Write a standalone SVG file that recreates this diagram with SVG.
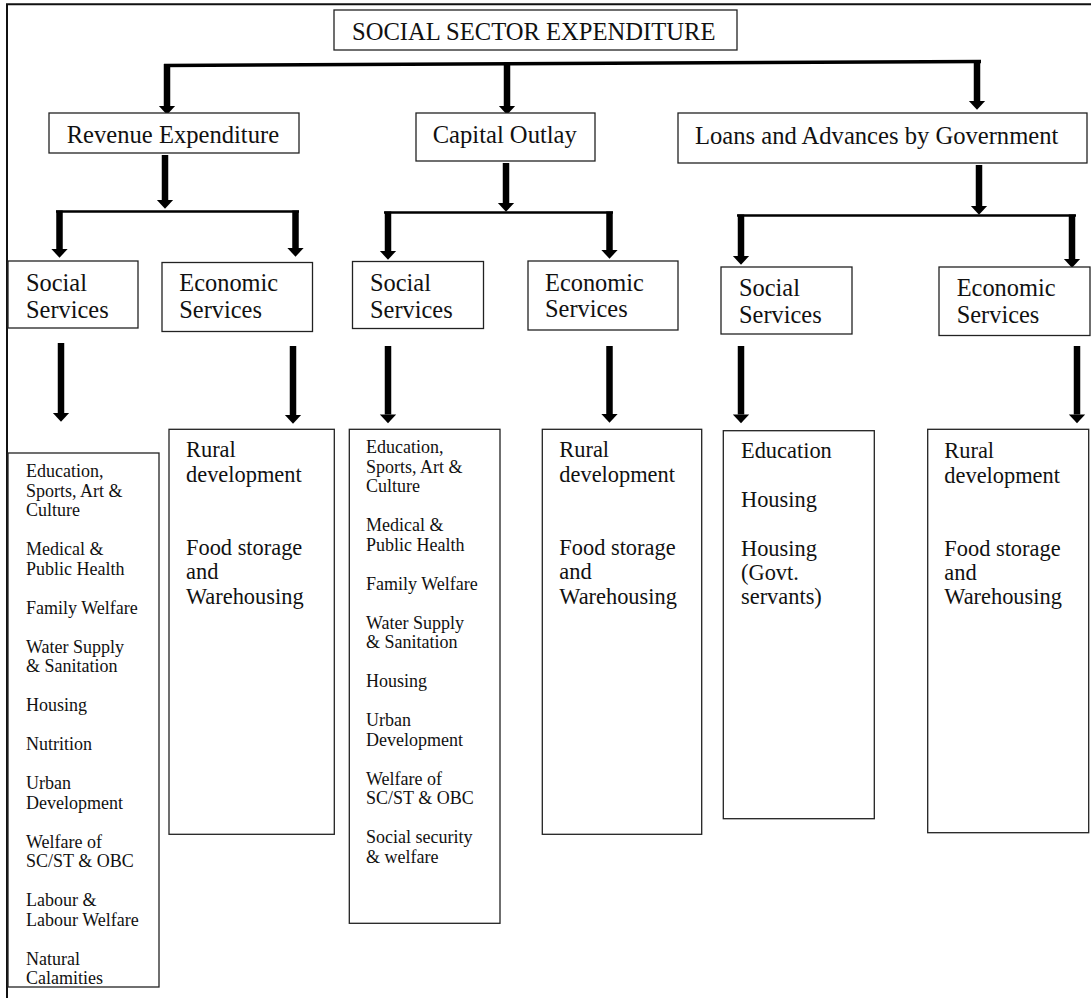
<svg xmlns="http://www.w3.org/2000/svg" width="1091" height="998" viewBox="0 0 1091 998">
<style>
  .box { fill: #fff; stroke: #222; stroke-width: 1.3; }
  .t { font-family: "Liberation Serif", "Times New Roman", serif; fill: #111; }
  .h1 { font-size: 24.6px; }
  .h2 { font-size: 24.4px; }
  .l1 { font-size: 22.4px; }
  .l2 { font-size: 18px; }
  .bar { stroke: #000; stroke-width: 3.5; fill: none; }
  .bar2 { stroke: #000; stroke-width: 2.5; fill: none; }
  .shaft { stroke: #000; stroke-width: 6.5; fill: none; marker-end: url(#ah); }
  .frame { stroke: #111; stroke-width: 2; fill: none; }
</style>
<defs>
  <marker id="ah" markerUnits="userSpaceOnUse" markerWidth="20" markerHeight="20" refX="0" refY="0" orient="auto" viewBox="-1 -8 10 16" overflow="visible">
    <path d="M0,-6.5 L7,0 L0,6.5 Z" fill="#000"/>
  </marker>
</defs>

<g id="frame">
  <path class="frame" d="M7,998 L7,4.3 L1091,4.3"/>
</g>

<g id="connectors">
  <path class="bar" d="M164,65.5 L981,61.5"/>
  <line class="shaft" x1="167" y1="64" x2="167" y2="106"/>
  <line class="shaft" x1="507" y1="62" x2="507" y2="106"/>
  <line class="shaft" x1="977" y1="60" x2="977" y2="101"/>

  <line class="shaft" x1="165" y1="155" x2="165" y2="200"/>
  <line class="bar2" x1="56" y1="211.5" x2="299" y2="211.5"/>
  <line class="shaft" x1="59.5" y1="210.5" x2="59.5" y2="249"/>
  <line class="shaft" x1="295.5" y1="210.5" x2="295.5" y2="248"/>

  <line class="shaft" x1="506" y1="163" x2="506" y2="203"/>
  <line class="bar2" x1="384" y1="212.5" x2="613" y2="212.5"/>
  <line class="shaft" x1="388" y1="211.5" x2="388" y2="251"/>
  <line class="shaft" x1="609.5" y1="211.5" x2="609.5" y2="250"/>

  <line class="shaft" x1="979" y1="165" x2="979" y2="206"/>
  <line class="bar2" x1="737" y1="215.5" x2="1076" y2="215.5"/>
  <line class="shaft" x1="741" y1="214.5" x2="741" y2="256"/>
  <line class="shaft" x1="1072" y1="214.5" x2="1072" y2="259"/>

  <line class="shaft" x1="61" y1="343" x2="61" y2="413"/>
  <line class="shaft" x1="293" y1="346" x2="293" y2="415"/>
  <line class="shaft" x1="388" y1="346" x2="388" y2="414.5"/>
  <line class="shaft" x1="609.5" y1="346" x2="609.5" y2="414"/>
  <line class="shaft" x1="741" y1="346" x2="741" y2="414.5"/>
  <line class="shaft" x1="1077" y1="346" x2="1077" y2="414.5"/>
</g>

<g id="title">
  <rect class="box" x="334" y="10" width="403" height="40"/>
  <text class="t h1" x="352" y="40">SOCIAL SECTOR EXPENDITURE</text>
</g>

<g id="revenue">
  <rect class="box" x="49" y="113" width="250" height="40"/>
  <text class="t h1" x="66.7" y="143">Revenue Expenditure</text>
</g>
<g id="capital">
  <rect class="box" x="416" y="113" width="179" height="48"/>
  <text class="t h1" x="432.7" y="143">Capital Outlay</text>
</g>
<g id="loans">
  <rect class="box" x="678" y="113" width="409" height="50"/>
  <text class="t h1" x="695" y="143.5">Loans and Advances by Government</text>
</g>

<g id="rev-social">
  <rect class="box" x="8" y="261" width="130" height="67"/>
  <text class="t h2" x="26" y="291">Social<tspan x="26" y="317.5">Services</tspan></text>
</g>
<g id="rev-economic">
  <rect class="box" x="162" y="262.5" width="150.5" height="69"/>
  <text class="t h2" x="179.3" y="291">Economic<tspan x="179.3" y="317.5">Services</tspan></text>
</g>
<g id="cap-social">
  <rect class="box" x="352.5" y="261.5" width="131" height="67"/>
  <text class="t h2" x="370" y="291">Social<tspan x="370" y="317.5">Services</tspan></text>
</g>
<g id="cap-economic">
  <rect class="box" x="528" y="261" width="150" height="69"/>
  <text class="t h2" x="545" y="290.5">Economic<tspan x="545" y="317">Services</tspan></text>
</g>
<g id="loan-social">
  <rect class="box" x="721" y="267" width="131" height="67"/>
  <text class="t h2" x="739" y="295.5">Social<tspan x="739" y="322.5">Services</tspan></text>
</g>
<g id="loan-economic">
  <rect class="box" x="939" y="267" width="151" height="68.5"/>
  <text class="t h2" x="956.7" y="295.5">Economic<tspan x="956.7" y="322.5">Services</tspan></text>
</g>

<g id="rev-social-list">
  <rect class="box" x="8" y="453" width="151" height="534"/>
  <text class="t l2" x="26" y="477.3">Education,<tspan x="26" y="496.8">Sports, Art &amp;</tspan><tspan x="26" y="516.3">Culture</tspan><tspan x="26" y="555.3">Medical &amp;</tspan><tspan x="26" y="574.8">Public Health</tspan><tspan x="26" y="613.8">Family Welfare</tspan><tspan x="26" y="652.8">Water Supply</tspan><tspan x="26" y="672.3">&amp; Sanitation</tspan><tspan x="26" y="711.3">Housing</tspan><tspan x="26" y="750.3">Nutrition</tspan><tspan x="26" y="789.3">Urban</tspan><tspan x="26" y="808.8">Development</tspan><tspan x="26" y="847.8">Welfare of</tspan><tspan x="26" y="867.3">SC/ST &amp; OBC</tspan><tspan x="26" y="906.3">Labour &amp;</tspan><tspan x="26" y="925.8">Labour Welfare</tspan><tspan x="26" y="964.8">Natural</tspan><tspan x="26" y="984.3">Calamities</tspan></text>
</g>

<g id="rev-economic-list">
  <rect class="box" x="169" y="429.3" width="165.3" height="405"/>
  <text class="t l1" x="186" y="457.3">Rural<tspan x="186" y="481.7">development</tspan><tspan x="186" y="555">Food storage</tspan><tspan x="186" y="579.3">and</tspan><tspan x="186" y="603.7">Warehousing</tspan></text>
</g>

<g id="cap-social-list">
  <rect class="box" x="349.3" y="429.3" width="150.7" height="494"/>
  <text class="t l2" x="366" y="453.3">Education,<tspan x="366" y="472.8">Sports, Art &amp;</tspan><tspan x="366" y="492.3">Culture</tspan><tspan x="366" y="531.3">Medical &amp;</tspan><tspan x="366" y="550.8">Public Health</tspan><tspan x="366" y="589.8">Family Welfare</tspan><tspan x="366" y="628.8">Water Supply</tspan><tspan x="366" y="648.3">&amp; Sanitation</tspan><tspan x="366" y="687.3">Housing</tspan><tspan x="366" y="726.3">Urban</tspan><tspan x="366" y="745.8">Development</tspan><tspan x="366" y="784.8">Welfare of</tspan><tspan x="366" y="804.3">SC/ST &amp; OBC</tspan><tspan x="366" y="843.3">Social security</tspan><tspan x="366" y="862.8">&amp; welfare</tspan></text>
</g>

<g id="cap-economic-list">
  <rect class="box" x="542.3" y="429.3" width="159.4" height="405"/>
  <text class="t l1" x="559.3" y="457.3">Rural<tspan x="559.3" y="481.7">development</tspan><tspan x="559.3" y="555">Food storage</tspan><tspan x="559.3" y="579.3">and</tspan><tspan x="559.3" y="603.7">Warehousing</tspan></text>
</g>

<g id="loan-social-list">
  <rect class="box" x="723.3" y="430.7" width="151" height="388"/>
  <text class="t l1" x="741" y="458.3">Education<tspan x="741" y="506.8">Housing</tspan><tspan x="741" y="555.6">Housing</tspan><tspan x="741" y="580">(Govt.</tspan><tspan x="741" y="604.4">servants)</tspan></text>
</g>

<g id="loan-economic-list">
  <rect class="box" x="927.7" y="429.3" width="161" height="403.4"/>
  <text class="t l1" x="944.3" y="458.3">Rural<tspan x="944.3" y="482.5">development</tspan><tspan x="944.3" y="555.5">Food storage</tspan><tspan x="944.3" y="579.5">and</tspan><tspan x="944.3" y="603.7">Warehousing</tspan></text>
</g>
</svg>
